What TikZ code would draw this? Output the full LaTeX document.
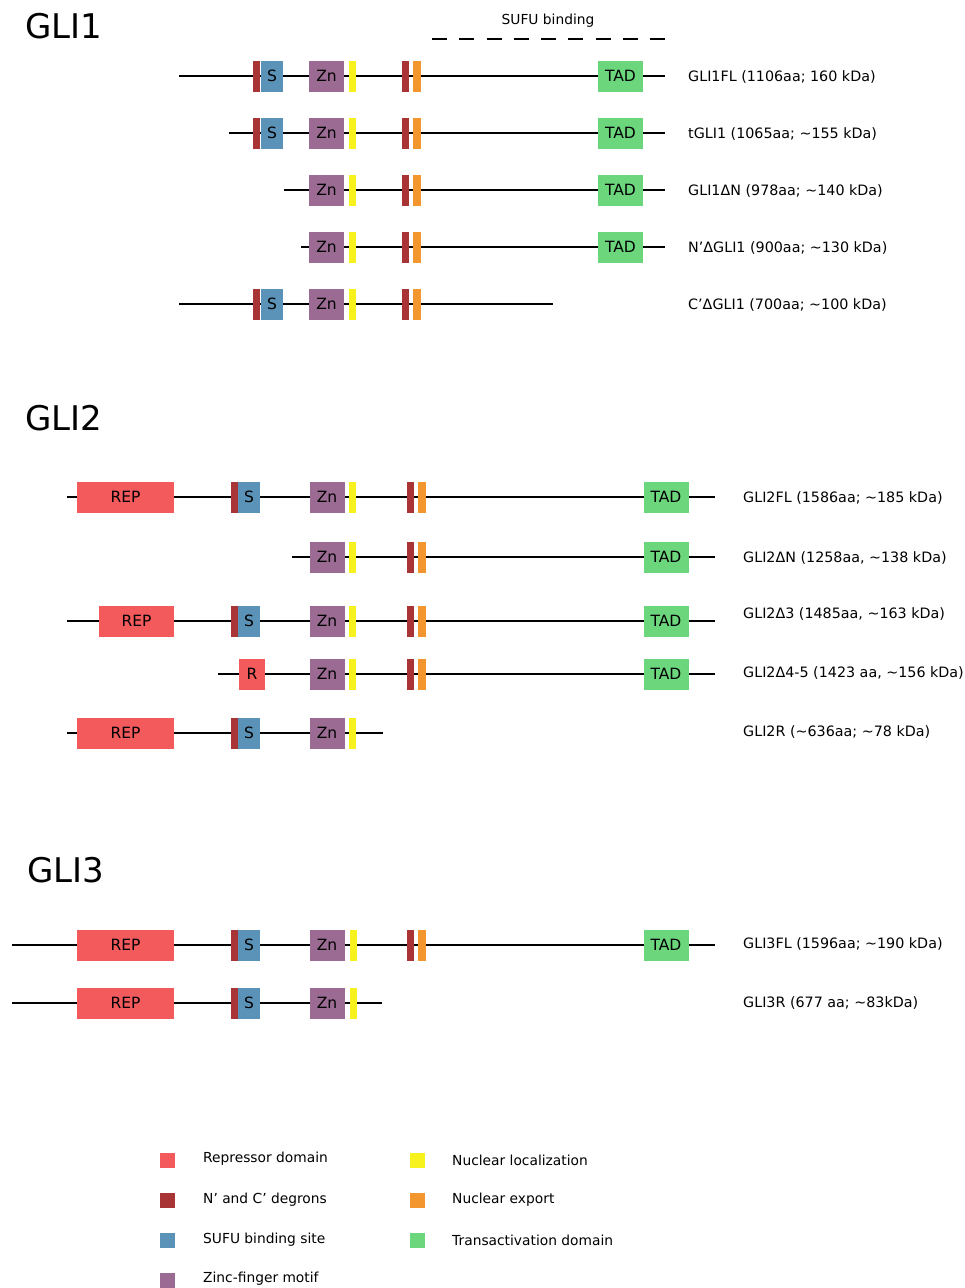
\documentclass[tikz,border=0pt]{standalone}
\usepackage{fontspec}
\setmainfont{DejaVu Sans}
\definecolor{repc}{HTML}{F25A5C}
\definecolor{degc}{HTML}{A83436}
\definecolor{sufuc}{HTML}{5B93B8}
\definecolor{znc}{HTML}{9B6B94}
\definecolor{nlsc}{HTML}{F7F21E}
\definecolor{nesc}{HTML}{F4962E}
\definecolor{tadc}{HTML}{6BD67C}
\begin{document}
\begin{tikzpicture}[x=1pt,y=-1pt,
  dom/.style={draw=none,inner sep=0pt,minimum height=31pt,font=\fontsize{15.5}{17}\selectfont},
  rep/.style={dom,fill=repc,minimum width=97pt},
  deg/.style={dom,fill=degc,minimum width=7pt},
  sbox/.style={dom,fill=sufuc,minimum width=22pt},
  zn/.style={dom,fill=znc,minimum width=35pt},
  nls/.style={dom,fill=nlsc,minimum width=7pt},
  nes/.style={dom,fill=nesc,minimum width=7.5pt},
  tad/.style={dom,fill=tadc,minimum width=45pt},
  bb/.style={line width=1.6pt,black},
  lab/.style={anchor=west,inner sep=0pt,font=\fontsize{14.3}{16}\selectfont},
  legt/.style={anchor=west,inner sep=0pt,font=\fontsize{13.8}{16}\selectfont},
  ttl/.style={anchor=west,inner sep=0pt,font=\fontsize{34}{40}\selectfont},
  leg/.style={draw=none,inner sep=0pt,minimum size=15pt},
]
\useasboundingbox (0,0) rectangle (965,1288);
\fill[white] (0,0) rectangle (965,1288);

% ---------------- GLI1 ----------------
\node[ttl] (t1) at (25,26) {GLI1};
\node[legt,anchor=center] (sufu) at (548,21) {SUFU binding};
\coordinate (ds) at (432,39);
\coordinate (de) at (665,39);
\draw[line width=1.5pt,dash pattern=on 15pt off 12.25pt] (ds) -- (de);

% row 1: GLI1FL
\coordinate (a1s) at (179,76); \coordinate (a1e) at (665,76);
\draw[bb] (a1s) -- (a1e);
\node[deg] (a1d) at (256.5,76) {};
\node[sbox] (a1s2) at (272,76) {S};
\node[zn] (a1z) at (326.5,76) {Zn};
\node[nls] (a1n) at (352.5,76) {};
\node[deg] (a1d2) at (405.5,76) {};
\node[nes] (a1x) at (417,76) {};
\node[tad] (a1t) at (620.5,76) {TAD};
\node[lab] (l1) at (688,77) {GLI1FL (1106aa; 160 kDa)};

% row 2: tGLI1
\coordinate (a2s) at (229,133); \coordinate (a2e) at (665,133);
\draw[bb] (a2s) -- (a2e);
\node[deg] (a2d) at (256.5,133) {};
\node[sbox] (a2s2) at (272,133) {S};
\node[zn] (a2z) at (326.5,133) {Zn};
\node[nls] (a2n) at (352.5,133) {};
\node[deg] (a2d2) at (405.5,133) {};
\node[nes] (a2x) at (417,133) {};
\node[tad] (a2t) at (620.5,133) {TAD};
\node[lab] (l2) at (688,134) {tGLI1 (1065aa; \textasciitilde155 kDa)};

% row 3: GLI1 delta N
\coordinate (a3s) at (284,190); \coordinate (a3e) at (665,190);
\draw[bb] (a3s) -- (a3e);
\node[zn] (a3z) at (326.5,190) {Zn};
\node[nls] (a3n) at (352.5,190) {};
\node[deg] (a3d2) at (405.5,190) {};
\node[nes] (a3x) at (417,190) {};
\node[tad] (a3t) at (620.5,190) {TAD};
\node[lab] (l3) at (688,191) {GLI1ΔN (978aa; \textasciitilde140 kDa)};

% row 4: N' delta GLI1
\coordinate (a4s) at (301,247); \coordinate (a4e) at (665,247);
\draw[bb] (a4s) -- (a4e);
\node[zn] (a4z) at (326.5,247) {Zn};
\node[nls] (a4n) at (352.5,247) {};
\node[deg] (a4d2) at (405.5,247) {};
\node[nes] (a4x) at (417,247) {};
\node[tad] (a4t) at (620.5,247) {TAD};
\node[lab] (l4) at (688,248) {N’ΔGLI1 (900aa; \textasciitilde130 kDa)};

% row 5: C' delta GLI1
\coordinate (a5s) at (179,304); \coordinate (a5e) at (553,304);
\draw[bb] (a5s) -- (a5e);
\node[deg] (a5d) at (256.5,304) {};
\node[sbox] (a5s2) at (272,304) {S};
\node[zn] (a5z) at (326.5,304) {Zn};
\node[nls] (a5n) at (352.5,304) {};
\node[deg] (a5d2) at (405.5,304) {};
\node[nes] (a5x) at (417,304) {};
\node[lab] (l5) at (688,305) {C’ΔGLI1 (700aa; \textasciitilde100 kDa)};

% ---------------- GLI2 ----------------
\node[ttl] (t2) at (25,418) {GLI2};

% row 1: GLI2FL
\coordinate (b1s) at (67,497); \coordinate (b1e) at (715,497);
\draw[bb] (b1s) -- (b1e);
\node[rep] (b1r) at (125.5,497) {REP};
\node[deg] (b1d) at (234,497) {};
\node[sbox] (b1s2) at (249,497) {S};
\node[zn] (b1z) at (327,497) {Zn};
\node[nls] (b1n) at (352.8,497) {};
\node[deg] (b1d2) at (410.3,497) {};
\node[nes] (b1x) at (422,497) {};
\node[tad] (b1t) at (666,497) {TAD};
\node[lab] (m1) at (743,498) {GLI2FL (1586aa; \textasciitilde185 kDa)};

% row 2: GLI2 delta N
\coordinate (b2s) at (292,557); \coordinate (b2e) at (715,557);
\draw[bb] (b2s) -- (b2e);
\node[zn] (b2z) at (327,557) {Zn};
\node[nls] (b2n) at (352.8,557) {};
\node[deg] (b2d2) at (410.3,557) {};
\node[nes] (b2x) at (422,557) {};
\node[tad] (b2t) at (666,557) {TAD};
\node[lab] (m2) at (743,558) {GLI2ΔN (1258aa, \textasciitilde138 kDa)};

% row 3: GLI2 delta 3
\coordinate (b3s) at (67,621); \coordinate (b3e) at (715,621);
\draw[bb] (b3s) -- (b3e);
\node[rep,minimum width=75pt] (b3r) at (136.5,621) {REP};
\node[deg] (b3d) at (234,621) {};
\node[sbox] (b3s2) at (249,621) {S};
\node[zn] (b3z) at (327,621) {Zn};
\node[nls] (b3n) at (352.8,621) {};
\node[deg] (b3d2) at (410.3,621) {};
\node[nes] (b3x) at (422,621) {};
\node[tad] (b3t) at (666,621) {TAD};
\node[lab] (m3) at (743,614) {GLI2Δ3 (1485aa, \textasciitilde163 kDa)};

% row 4: GLI2 delta 4-5
\coordinate (b4s) at (218,674); \coordinate (b4e) at (715,674);
\draw[bb] (b4s) -- (b4e);
\node[rep,minimum width=26pt] (b4r) at (252,674) {R};
\node[zn] (b4z) at (327,674) {Zn};
\node[nls] (b4n) at (352.8,674) {};
\node[deg] (b4d2) at (410.3,674) {};
\node[nes] (b4x) at (422,674) {};
\node[tad] (b4t) at (666,674) {TAD};
\node[lab] (m4) at (743,673) {GLI2Δ4-5 (1423 aa, \textasciitilde156 kDa)};

% row 5: GLI2R
\coordinate (b5s) at (67,733); \coordinate (b5e) at (383,733);
\draw[bb] (b5s) -- (b5e);
\node[rep] (b5r) at (125.5,733) {REP};
\node[deg] (b5d) at (234,733) {};
\node[sbox] (b5s2) at (249,733) {S};
\node[zn] (b5z) at (327,733) {Zn};
\node[nls] (b5n) at (352.8,733) {};
\node[lab] (m5) at (743,732) {GLI2R (\textasciitilde636aa; \textasciitilde78 kDa)};

% ---------------- GLI3 ----------------
\node[ttl] (t3) at (27,870) {GLI3};

% row 1: GLI3FL
\coordinate (c1s) at (12,945); \coordinate (c1e) at (715,945);
\draw[bb] (c1s) -- (c1e);
\node[rep] (c1r) at (125.5,945) {REP};
\node[deg] (c1d) at (234,945) {};
\node[sbox] (c1s2) at (249,945) {S};
\node[zn] (c1z) at (327,945) {Zn};
\node[nls] (c1n) at (353,945) {};
\node[deg] (c1d2) at (410.3,945) {};
\node[nes] (c1x) at (422,945) {};
\node[tad] (c1t) at (666,945) {TAD};
\node[lab] (n1) at (743,944) {GLI3FL (1596aa; \textasciitilde190 kDa)};

% row 2: GLI3R
\coordinate (c2s) at (12,1003); \coordinate (c2e) at (382,1003);
\draw[bb] (c2s) -- (c2e);
\node[rep] (c2r) at (125.5,1003) {REP};
\node[deg] (c2d) at (234,1003) {};
\node[sbox] (c2s2) at (249,1003) {S};
\node[zn] (c2z) at (327,1003) {Zn};
\node[nls] (c2n) at (353,1003) {};
\node[lab] (n2) at (743,1003) {GLI3R (677 aa; \textasciitilde83kDa)};

% ---------------- Legend ----------------
\node[leg,fill=repc] (k1) at (167.5,1160) {};
\node[legt] (k1t) at (203,1159) {Repressor domain};
\node[leg,fill=degc] (k2) at (167.5,1200) {};
\node[legt] (k2t) at (203,1200) {N’ and C’ degrons};
\node[leg,fill=sufuc] (k3) at (167.5,1240) {};
\node[legt] (k3t) at (203,1240) {SUFU binding site};
\node[leg,fill=znc] (k4) at (167.5,1280) {};
\node[legt] (k4t) at (203,1279) {Zinc-finger motif};
\node[leg,fill=nlsc] (k5) at (417.5,1160) {};
\node[legt] (k5t) at (452,1160) {Nuclear localization};
\node[leg,fill=nesc] (k6) at (417.5,1200) {};
\node[legt] (k6t) at (452,1200) {Nuclear export};
\node[leg,fill=tadc] (k7) at (417.5,1240) {};
\node[legt] (k7t) at (452,1240) {Transactivation domain};
\end{tikzpicture}
\end{document}
